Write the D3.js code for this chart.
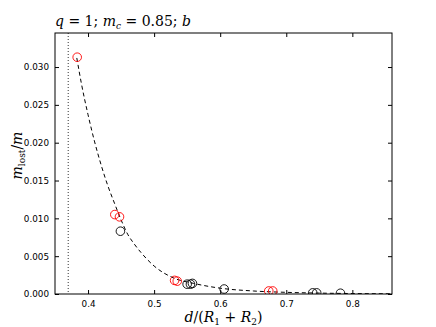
<!DOCTYPE html>
<html>
<head>
<meta charset="utf-8">
<script src="https://cdn.jsdelivr.net/npm/d3@7"></script>
<style>
  body { margin: 0; background: #fff; }
  .tick text { font-family: "DejaVu Sans", sans-serif; font-size: 8.8px; }
  .math { font-family: "DejaVu Serif", serif; font-style: italic; }
</style>
</head>
<body>
<svg id="svg1" width="436" height="327"></svg>
<script>
"use strict"

// points: red set and black set
const redX = [0.3836, 0.4405, 0.4476, 0.5310, 0.5350, 0.6735, 0.6795];
const redY = [0.0313, 0.0105, 0.0102, 0.0018, 0.0017, 0.0004, 0.0004];
const blackX = [0.4490, 0.5500, 0.5550, 0.5580, 0.6060, 0.7400, 0.7460, 0.7820];
const blackY = [0.0083, 0.0013, 0.0013, 0.0014, 0.00066, 0.00015, 0.00015, 0.0001];

// dashed fit curve, traced by eye
const fitX = [0.383, 0.39, 0.40, 0.41, 0.42, 0.43, 0.44, 0.45, 0.46, 0.47, 0.48, 0.50, 0.53, 0.56, 0.60, 0.65, 0.70, 0.75, 0.80, 0.86];
const fitY = [0.0312, 0.0278, 0.0237, 0.0201, 0.0170, 0.0143, 0.0120, 0.0098, 0.0079, 0.0066, 0.0055, 0.0037, 0.0021, 0.0014, 0.00077, 0.00040, 0.00022, 0.00012, 0.00006, 0.00003];

const xTicks = [0.4, 0.5, 0.6, 0.7, 0.8];
const yTicks = [0, 0.005, 0.010, 0.015, 0.020, 0.025, 0.030];
const vLineX = 0.37;

const svg = d3.select("#svg1");
const margin = {top: 33, right: 44, bottom: 33, left: 55};
const width = 436 - margin.left - margin.right;
const height = 327 - margin.top - margin.bottom;

const x = d3.scaleLinear().domain([0.35, 0.86]).range([0, width]);
const y = d3.scaleLinear().domain([0, 0.0345]).range([height, 0]);

const g = svg.append("g").attr("transform", `translate(${margin.left},${margin.top})`);

// clip so markers at the bottom edge are cut like matplotlib
g.append("clipPath").attr("id", "clip")
  .append("rect").attr("width", width).attr("height", height);

const plot = g.append("g").attr("clip-path", "url(#clip)");

// dotted vertical line
plot.append("line")
  .attr("x1", x(vLineX)).attr("x2", x(vLineX))
  .attr("y1", 0).attr("y2", height)
  .attr("stroke", "#000").attr("stroke-width", 0.8)
  .attr("stroke-dasharray", "1,2");

// fit curve
const fitData = fitX.map((d, i) => [d, fitY[i]]);
plot.append("path")
  .datum(fitData)
  .attr("fill", "none")
  .attr("stroke", "#000")
  .attr("stroke-width", 1)
  .attr("stroke-dasharray", "4,3")
  .attr("d", d3.line().x(d => x(d[0])).y(d => y(d[1])).curve(d3.curveMonotoneX));

// markers
plot.selectAll(".black").data(blackX)
  .enter().append("circle")
    .attr("class", "black")
    .attr("cx", d => x(d))
    .attr("cy", (d, i) => y(blackY[i]))
    .attr("r", 4.3)
    .attr("fill", "none")
    .attr("stroke", "#000")
    .attr("stroke-width", 0.9);

plot.selectAll(".red").data(redX)
  .enter().append("circle")
    .attr("class", "red")
    .attr("cx", d => x(d))
    .attr("cy", (d, i) => y(redY[i]))
    .attr("r", 4.3)
    .attr("fill", "none")
    .attr("stroke", "#ff0000")
    .attr("stroke-width", 0.9);

// axes, ticks pointing inwards on all four sides
g.append("g")
  .attr("transform", `translate(0,${height})`)
  .call(d3.axisBottom(x).tickValues(xTicks).tickSize(-4).tickPadding(7).tickFormat(d3.format(".1f")))
  .call(a => a.select(".domain").remove());
g.append("g")
  .call(d3.axisTop(x).tickValues(xTicks).tickSize(-4).tickFormat(""))
  .call(a => a.select(".domain").remove());
g.append("g")
  .call(d3.axisLeft(y).tickValues(yTicks).tickSize(-4).tickPadding(6).tickFormat(d3.format(".3f")))
  .call(a => a.select(".domain").remove());
g.append("g")
  .attr("transform", `translate(${width},0)`)
  .call(d3.axisRight(y).tickValues(yTicks).tickSize(-4).tickFormat(""))
  .call(a => a.select(".domain").remove());

g.append("rect")
  .attr("width", width).attr("height", height)
  .attr("fill", "none").attr("stroke", "#000").attr("stroke-width", 1);

// title
const title = svg.append("text")
  .attr("class", "math")
  .attr("x", margin.left)
  .attr("y", 26)
  .style("font-size", "14px");
title.append("tspan").text("q");
title.append("tspan").style("font-style", "normal").text(" = 1; ");
title.append("tspan").text("m");
title.append("tspan").attr("font-size", "9px").attr("dy", 3).text("c");
title.append("tspan").attr("dy", -3).style("font-style", "normal").text(" = 0.85;  ");
title.append("tspan").text("b");

// x label
const xl = svg.append("text")
  .attr("class", "math")
  .attr("x", margin.left + width / 2)
  .attr("y", 322)
  .attr("text-anchor", "middle")
  .style("font-size", "14px");
xl.append("tspan").text("d");
xl.append("tspan").style("font-style", "normal").text("/(");
xl.append("tspan").text("R");
xl.append("tspan").attr("font-size", "9px").attr("dy", 3).style("font-style", "normal").text("1");
xl.append("tspan").attr("dy", -3).style("font-style", "normal").text(" + ");
xl.append("tspan").text("R");
xl.append("tspan").attr("font-size", "9px").attr("dy", 3).style("font-style", "normal").text("2");
xl.append("tspan").attr("dy", -3).style("font-style", "normal").text(")");

// y label
const yl = svg.append("text")
  .attr("class", "math")
  .attr("transform", `translate(22,${margin.top + height / 2 - 8}) rotate(-90)`)
  .attr("text-anchor", "middle")
  .style("font-size", "14px");
yl.append("tspan").text("m");
yl.append("tspan").attr("font-size", "9px").attr("dy", 3).style("font-style", "normal").text("lost");
yl.append("tspan").attr("dy", -3).style("font-style", "normal").text("/");
yl.append("tspan").text("m");
</script>
</body>
</html>
